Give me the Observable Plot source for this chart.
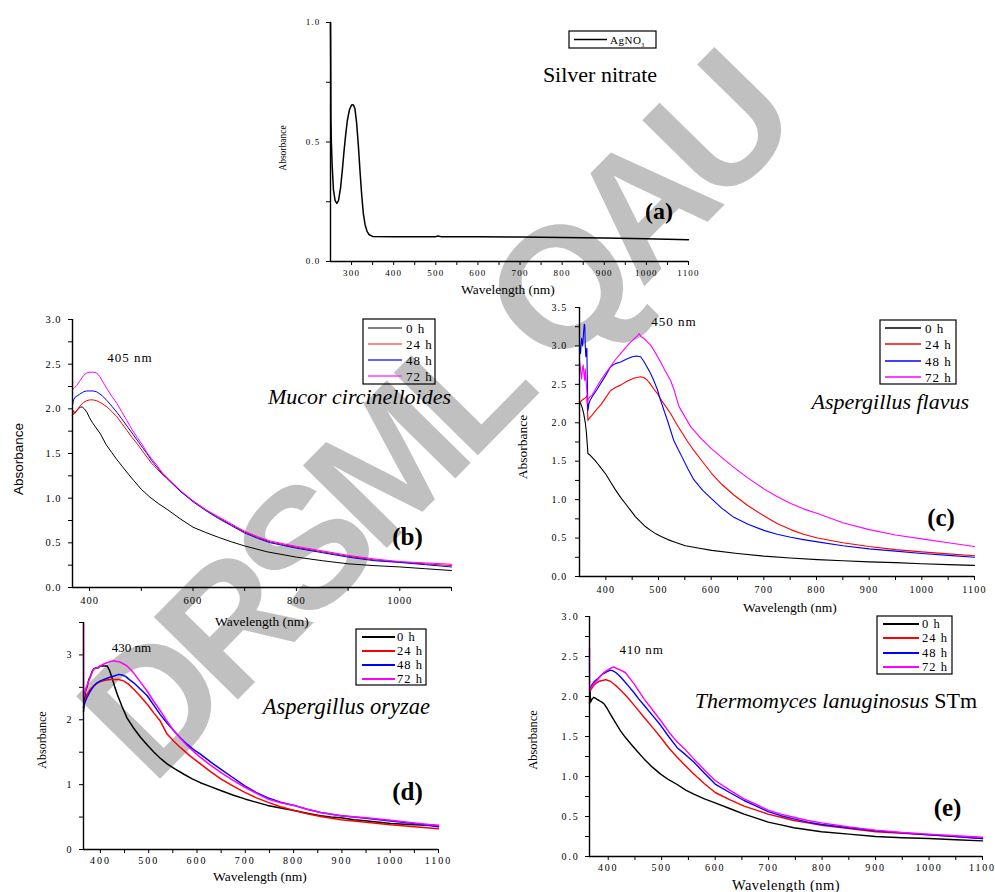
<!DOCTYPE html>
<html><head><meta charset="utf-8">
<script src="https://cdn.jsdelivr.net/npm/d3@7"></script>
<script src="https://cdn.jsdelivr.net/npm/@observablehq/plot@0.6"></script>
<style>
html,body{margin:0;padding:0;background:#fff;}
#fig{position:relative;width:995px;height:892px;overflow:hidden;background:#fff;}
</style></head><body><div id="fig"></div>
<script>
// ---------------- DATA ----------------
const seriesNames = ["0 h", "24 h", "48 h", "72 h"];
const seriesColors = ["#000000", "#ff0000", "#0000ff", "#ff00ff"];

// (a) Silver nitrate
const a_AgNO3 = [[250,1.0],[250.5,0.85],[251,0.6],[252,0.5],[254,0.4],[257,0.3],[261,0.255],[265,0.243],[269,0.255],[274,0.31],[278,0.38],[282,0.46],[286,0.53],[290,0.59],[295,0.635],[300,0.655],[304,0.656],[308,0.64],[312,0.58],[316,0.49],[320,0.38],[324,0.28],[328,0.2],[332,0.155],[337,0.125],[342,0.112],[350,0.105],[400,0.104],[500,0.104],[505,0.107],[512,0.104],[600,0.104],[700,0.102],[800,0.1],[900,0.098],[1000,0.095],[1100,0.091]];

// (b) Mucor circinelloides
const b_0h = [[367,1.93],[372,1.96],[377,1.99],[382,2.02],[386,2.02],[390,2.0],[395,1.96],[400,1.9],[405,1.85],[411,1.8],[421,1.72],[432,1.6],[443,1.51],[453,1.43],[464,1.35],[475,1.27],[485,1.2],[500,1.1],[517,1.01],[533,0.94],[550,0.875],[575,0.77],[600,0.675],[625,0.615],[650,0.56],[675,0.51],[700,0.465],[743,0.40],[800,0.34],[850,0.3],[900,0.265],[950,0.245],[1000,0.23],[1050,0.21],[1100,0.19]];
const b_24h = [[367,1.93],[369,1.98],[372,1.95],[375,1.98],[381,2.03],[388,2.07],[394,2.09],[400,2.10],[407,2.10],[414,2.09],[424,2.06],[434,2.02],[443,1.97],[453,1.91],[462,1.84],[472,1.76],[482,1.68],[492,1.61],[502,1.53],[511,1.46],[520,1.39],[530,1.33],[540,1.27],[550,1.22],[575,1.08],[600,0.97],[625,0.87],[650,0.78],[675,0.70],[700,0.62],[725,0.56],[750,0.51],[775,0.48],[800,0.45],[850,0.40],[900,0.35],[950,0.31],[1000,0.285],[1050,0.265],[1100,0.245]];
const b_48h = [[367,2.04],[369,2.1],[372,2.13],[380,2.16],[388,2.19],[394,2.2],[400,2.2],[407,2.2],[414,2.19],[424,2.15],[434,2.09],[443,2.03],[453,1.96],[462,1.89],[472,1.81],[482,1.73],[492,1.65],[502,1.57],[511,1.5],[520,1.42],[530,1.35],[540,1.28],[550,1.22],[575,1.08],[600,0.96],[625,0.86],[650,0.77],[675,0.69],[700,0.61],[725,0.55],[750,0.50],[775,0.47],[800,0.44],[850,0.39],[900,0.34],[950,0.30],[1000,0.28],[1050,0.255],[1100,0.23]];
const b_72h = [[367,3.0],[367.2,2.22],[370,2.23],[375,2.26],[381,2.31],[388,2.37],[394,2.4],[400,2.41],[407,2.41],[414,2.40],[420,2.36],[424,2.32],[429,2.27],[434,2.22],[443,2.14],[453,2.06],[462,1.97],[472,1.87],[482,1.77],[492,1.68],[502,1.6],[511,1.51],[520,1.44],[530,1.37],[540,1.29],[550,1.23],[575,1.09],[600,0.97],[625,0.87],[650,0.79],[675,0.71],[700,0.63],[725,0.57],[750,0.52],[775,0.49],[800,0.46],[850,0.41],[900,0.36],[950,0.32],[1000,0.29],[1050,0.275],[1100,0.26]];

// (c) Aspergillus flavus
const c_0h = [[350,2.29],[355,2.2],[358,2.12],[361,2.0],[363,1.88],[365,1.7],[366,1.6],[370,1.58],[374,1.55],[382,1.49],[390,1.42],[400,1.33],[409,1.23],[418,1.13],[428,1.03],[437,0.95],[447,0.86],[456,0.78],[466,0.71],[475,0.65],[485,0.6],[495,0.555],[505,0.52],[518,0.48],[530,0.45],[551,0.40],[575,0.37],[601,0.34],[650,0.3],[700,0.265],[750,0.24],[802,0.22],[850,0.205],[900,0.19],[950,0.18],[1000,0.165],[1050,0.155],[1100,0.145]];
const c_24h = [[350,2.25],[354,2.29],[358,2.31],[362,2.33],[364,2.35],[365,2.2],[366,2.03],[370,2.07],[374,2.1],[382,2.17],[390,2.23],[400,2.33],[409,2.42],[418,2.46],[428,2.49],[440,2.54],[453,2.58],[466,2.60],[472,2.59],[478,2.56],[485,2.5],[491,2.44],[498,2.38],[504,2.31],[513,2.22],[523,2.12],[532,2.01],[542,1.90],[554,1.77],[567,1.64],[584,1.49],[601,1.34],[620,1.2],[643,1.06],[670,0.92],[700,0.79],[725,0.69],[751,0.61],[775,0.55],[802,0.5],[850,0.44],[900,0.39],[950,0.35],[1000,0.32],[1050,0.295],[1100,0.27]];
const c_48h = [[350,3.03],[352,2.9],[354,3.1],[356,3.0],[358,3.2],[359,3.28],[360,3.27],[361,3.0],[362,2.86],[363,2.94],[364,2.97],[365,2.5],[366,2.16],[368,2.25],[370,2.29],[374,2.34],[382,2.42],[390,2.51],[400,2.62],[409,2.73],[418,2.77],[428,2.79],[440,2.83],[450,2.86],[458,2.87],[466,2.86],[472,2.8],[478,2.73],[485,2.64],[491,2.55],[498,2.43],[504,2.29],[511,2.15],[517,2.03],[523,1.9],[529,1.77],[537,1.66],[545,1.55],[556,1.4],[567,1.26],[584,1.12],[601,1.01],[620,0.89],[643,0.77],[670,0.68],[700,0.6],[725,0.55],[751,0.51],[775,0.48],[802,0.45],[850,0.40],[900,0.36],[950,0.33],[1000,0.30],[1050,0.275],[1100,0.25]];
const c_72h = [[350,2.81],[352,2.7],[354,2.57],[356,2.72],[357,2.75],[359,2.6],[360,2.55],[361,2.7],[362,2.6],[364,2.4],[365,2.25],[366,2.3],[370,2.34],[374,2.36],[382,2.46],[390,2.55],[400,2.65],[409,2.73],[418,2.82],[428,2.9],[438,2.98],[447,3.05],[455,3.1],[460,3.13],[463,3.16],[467,3.12],[472,3.10],[478,3.06],[485,3.01],[495,2.9],[504,2.79],[513,2.67],[523,2.55],[530,2.42],[535,2.3],[539,2.21],[550,2.08],[561,1.95],[580,1.8],[601,1.66],[620,1.55],[643,1.42],[670,1.28],[700,1.14],[725,1.04],[751,0.95],[775,0.88],[802,0.82],[850,0.7],[900,0.61],[950,0.54],[1000,0.49],[1050,0.44],[1100,0.39]];

// (d) Aspergillus oryzae
const d_0h = [[365,2.13],[367,2.3],[369,2.44],[372,2.5],[376,2.62],[380,2.68],[383,2.75],[386,2.78],[390,2.8],[395,2.8],[400,2.83],[407,2.83],[414,2.83],[419,2.76],[424,2.65],[430,2.5],[435,2.39],[445,2.2],[455,2.03],[469,1.87],[483,1.73],[497,1.61],[511,1.5],[525,1.4],[538,1.32],[555,1.24],[573,1.16],[590,1.09],[607,1.03],[628,0.97],[649,0.91],[674,0.84],[699,0.78],[722,0.73],[746,0.68],[773,0.64],[801,0.60],[828,0.56],[856,0.52],[877,0.5],[898,0.49],[925,0.46],[953,0.44],[1001,0.40],[1050,0.38],[1100,0.37]];
const d_24h = [[365,2.19],[368,2.3],[372,2.39],[379,2.47],[386,2.52],[393,2.56],[400,2.59],[410,2.61],[421,2.62],[430,2.62],[438,2.62],[448,2.6],[458,2.55],[469,2.47],[483,2.36],[497,2.24],[510,2.11],[524,1.98],[531,1.88],[538,1.78],[552,1.67],[566,1.57],[586,1.44],[607,1.32],[628,1.2],[649,1.09],[674,0.98],[699,0.88],[722,0.8],[746,0.73],[773,0.66],[801,0.60],[828,0.55],[856,0.51],[898,0.46],[950,0.42],[1001,0.38],[1050,0.35],[1100,0.32]];
const d_48h = [[365,2.19],[368,2.27],[372,2.34],[379,2.44],[386,2.52],[393,2.57],[400,2.60],[410,2.63],[421,2.66],[430,2.68],[438,2.70],[445,2.69],[452,2.67],[460,2.62],[469,2.57],[483,2.47],[497,2.37],[510,2.23],[524,2.08],[538,1.95],[552,1.83],[566,1.72],[580,1.62],[593,1.54],[607,1.47],[628,1.35],[649,1.24],[674,1.11],[699,0.98],[722,0.88],[746,0.80],[773,0.73],[801,0.68],[828,0.62],[856,0.57],[898,0.52],[950,0.48],[1001,0.44],[1050,0.40],[1100,0.35]];
const d_72h = [[365,3.49],[365.1,2.34],[368,2.42],[372,2.52],[379,2.66],[386,2.78],[393,2.8],[400,2.83],[407,2.86],[414,2.88],[421,2.9],[428,2.91],[434,2.9],[441,2.89],[448,2.86],[455,2.83],[462,2.78],[469,2.72],[483,2.58],[497,2.44],[510,2.29],[524,2.14],[538,1.98],[552,1.83],[566,1.71],[580,1.60],[593,1.51],[607,1.42],[628,1.3],[649,1.19],[674,1.07],[699,0.96],[722,0.87],[746,0.78],[773,0.72],[801,0.68],[828,0.62],[856,0.57],[898,0.52],[950,0.49],[1001,0.45],[1050,0.41],[1100,0.37]];

// (e) Thermomyces lanuginosus STm
const e_0h = [[365,1.91],[366,2.08],[367,1.93],[370,1.97],[373,1.99],[376,1.98],[380,1.96],[383,1.95],[388,1.93],[392,1.91],[398,1.85],[404,1.78],[413,1.68],[423,1.57],[432,1.49],[442,1.41],[455,1.31],[467,1.22],[482,1.12],[498,1.03],[513,0.96],[529,0.9],[545,0.83],[560,0.78],[580,0.72],[600,0.67],[627,0.6],[654,0.53],[677,0.48],[699,0.43],[723,0.395],[747,0.36],[773,0.335],[799,0.31],[850,0.28],[900,0.25],[950,0.235],[1000,0.225],[1050,0.21],[1100,0.195]];
const e_24h = [[365,2.05],[369,2.1],[373,2.14],[378,2.17],[383,2.19],[389,2.2],[395,2.21],[400,2.2],[404,2.19],[410,2.16],[417,2.12],[426,2.06],[436,1.99],[451,1.87],[467,1.74],[482,1.62],[498,1.49],[513,1.36],[529,1.24],[545,1.13],[560,1.03],[580,0.91],[600,0.8],[627,0.71],[654,0.63],[677,0.58],[699,0.53],[723,0.49],[747,0.45],[773,0.42],[799,0.39],[850,0.35],[900,0.31],[950,0.29],[1000,0.27],[1050,0.25],[1100,0.225]];
const e_48h = [[365,2.09],[369,2.14],[373,2.18],[380,2.22],[386,2.26],[392,2.29],[398,2.31],[404,2.33],[409,2.32],[414,2.3],[421,2.26],[429,2.2],[438,2.13],[448,2.05],[457,1.97],[467,1.89],[482,1.77],[498,1.64],[513,1.5],[529,1.36],[545,1.27],[560,1.18],[580,1.04],[600,0.905],[627,0.8],[654,0.7],[677,0.63],[699,0.56],[723,0.51],[747,0.47],[773,0.43],[799,0.40],[850,0.36],[900,0.32],[950,0.295],[1000,0.27],[1050,0.25],[1100,0.225]];
const e_72h = [[365,2.6],[365.2,2.07],[369,2.12],[373,2.16],[380,2.21],[386,2.26],[392,2.3],[398,2.33],[404,2.35],[410,2.37],[416,2.35],[423,2.33],[432,2.3],[440,2.23],[448,2.16],[457,2.07],[467,1.97],[482,1.84],[498,1.70],[513,1.56],[529,1.43],[545,1.33],[560,1.22],[580,1.08],[600,0.95],[627,0.83],[654,0.72],[677,0.65],[699,0.58],[723,0.53],[747,0.49],[773,0.45],[799,0.42],[850,0.37],[900,0.33],[950,0.30],[1000,0.28],[1050,0.26],[1100,0.24]];

// tick values
const aXTicks = d3.range(300, 1101, 50), aYTicks = d3.range(0, 1.001, 0.25);
const bXTicks = d3.range(400, 1101, 100), bYTicks = d3.range(0, 3.001, 0.25);
const cXTicks = d3.range(400, 1101, 50), cYTicks = d3.range(0, 3.501, 0.25);
const dXTicks = d3.range(400, 1101, 50), dYTicks = d3.range(0, 3.501, 0.5);
const eXTicks = d3.range(400, 1101, 50), eYTicks = d3.range(0, 3.001, 0.25);

// ---------------- DRAWING ----------------
const fig = document.getElementById("fig");
const SERIF = "'Liberation Serif','Times New Roman',serif";
const SANS = "'Liberation Sans',Arial,sans-serif";

// watermark (behind everything)
const wm = d3.select(fig).append("svg").attr("width", 995).attr("height", 892)
  .style("position", "absolute").style("left", "0px").style("top", "0px").style("z-index", 0);
wm.append("text").attr("x", 152).attr("y", 787)
  .attr("transform", "rotate(-45.5 152 787)")
  .attr("text-anchor", "start")
  .attr("font-family", SANS).attr("font-weight", "bold").attr("font-size", 171)
  .attr("letter-spacing", -12.5).attr("fill", "#c0c0c0")
  .text("DRSML QAU");

const isMult = (d, step) => Math.abs(d / step - Math.round(d / step)) < 1e-9;

function panel(cfg) {
  const p = Plot.plot({
    width: cfg.width, height: cfg.height,
    marginTop: cfg.m[0], marginRight: cfg.m[1], marginBottom: cfg.m[2], marginLeft: cfg.m[3],
    x: {domain: cfg.xDomain},
    y: {domain: cfg.yDomain},
    style: {background: "transparent", fontFamily: SERIF, fontSize: cfg.fs + "px",
            letterSpacing: cfg.ls + "px", overflow: "visible", color: "#000"},
    marks: [
      Plot.axisX({ticks: cfg.xTicks, tickFormat: d => isMult(d, cfg.xStep) ? String(d) : "",
                  tickSize: 4, tickPadding: cfg.padX, label: null, fontSize: cfg.fs}),
      Plot.axisY({ticks: cfg.yTicks, tickFormat: d => isMult(d, cfg.yStep) ? cfg.yFmt(d) : "",
                  tickSize: 4, tickPadding: cfg.padY, label: null, fontSize: cfg.fs}),
      ...cfg.series.map((s, i) => Plot.line(s, {x: d => d[0], y: d => d[1],
                  stroke: cfg.colors[i], strokeWidth: cfg.lw})),
      Plot.ruleX([cfg.xDomain[0]], {strokeWidth: 1.4}),
      Plot.ruleY([cfg.yDomain[0]], {strokeWidth: 1.4})
    ]
  });
  p.style.position = "absolute";
  p.style.left = cfg.left + "px";
  p.style.top = cfg.top + "px";
  p.style.zIndex = 1;
  fig.appendChild(p);
}

const f1 = d3.format(".1f");
panel({left: 270, top: 0, width: 440, height: 300, m: [22, 22, 39, 60],
  xDomain: [250, 1100], yDomain: [0, 1], xTicks: aXTicks, xStep: 100, yTicks: aYTicks, yStep: 0.5,
  yFmt: f1, series: [a_AgNO3], colors: ["#000"], lw: 1.5, fs: 9, ls: 1.2, padX: 4, padY: 6});
panel({left: 0, top: 300, width: 470, height: 330, m: [19, 19, 43, 72],
  xDomain: [367, 1100], yDomain: [0, 3], xTicks: bXTicks, xStep: 200, yTicks: bYTicks, yStep: 0.5,
  yFmt: f1, series: [b_0h, b_24h, b_48h, b_72h], colors: seriesColors, lw: 1, fs: 10.5, ls: 1, padX: 5, padY: 7});
panel({left: 500, top: 295, width: 495, height: 325, m: [12, 21, 44, 79],
  xDomain: [350, 1100], yDomain: [0, 3.5], xTicks: cXTicks, xStep: 100, yTicks: cYTicks, yStep: 0.5,
  yFmt: f1, series: [c_0h, c_24h, c_48h, c_72h], colors: seriesColors, lw: 1.1, fs: 10, ls: 1.2, padX: 5, padY: 8});
panel({left: 0, top: 610, width: 460, height: 282, m: [12, 22, 43, 83],
  xDomain: [365, 1100], yDomain: [0, 3.5], xTicks: dXTicks, xStep: 100, yTicks: dYTicks, yStep: 1,
  yFmt: d => String(d), series: [d_0h, d_24h, d_48h, d_72h], colors: seriesColors, lw: 1.5, fs: 10, ls: 2, padX: 3, padY: 6});
panel({left: 510, top: 606, width: 485, height: 286, m: [10, 13, 36, 79],
  xDomain: [365, 1100], yDomain: [0, 3], xTicks: eXTicks, xStep: 100, yTicks: eYTicks, yStep: 0.5,
  yFmt: f1, series: [e_0h, e_24h, e_48h, e_72h], colors: seriesColors, lw: 1.4, fs: 10, ls: 1.8, padX: 3, padY: 6});

// ---------------- OVERLAY TEXT & LEGENDS ----------------
const ov = d3.select(fig).append("svg").attr("width", 995).attr("height", 892)
  .style("position", "absolute").style("left", "0px").style("top", "0px").style("z-index", 2);

function txt(x, y, s, o = {}) {
  const t = ov.append("text").attr("x", x).attr("y", y)
    .attr("text-anchor", o.anchor || "middle")
    .attr("font-family", o.family || SERIF).attr("font-size", o.size || 13)
    .attr("fill", "#000");
  if (o.italic) t.attr("font-style", "italic");
  if (o.bold) t.attr("font-weight", "bold");
  if (o.ls) t.attr("letter-spacing", o.ls);
  if (o.rotate) t.attr("transform", `rotate(${o.rotate} ${x} ${y})`).attr("dominant-baseline", "central");
  t.text(s);
  return t;
}

function legend(box, rows, lx0, lx1, tx, size, lw, names, colors) {
  ov.append("rect").attr("x", box[0]).attr("y", box[1]).attr("width", box[2] - box[0]).attr("height", box[3] - box[1])
    .attr("fill", "none").attr("stroke", "#000").attr("stroke-width", 1.2);
  rows.forEach((ry, i) => {
    ov.append("line").attr("x1", lx0).attr("x2", lx1).attr("y1", ry).attr("y2", ry)
      .attr("stroke", colors[i]).attr("stroke-width", lw);
    ov.append("text").attr("x", tx).attr("y", ry).attr("dominant-baseline", "central")
      .attr("font-family", SERIF).attr("font-size", size).attr("letter-spacing", 1).text(names[i]);
  });
}

// (a)
{
  ov.append("rect").attr("x", 569).attr("y", 31).attr("width", 87).attr("height", 17)
    .attr("fill", "none").attr("stroke", "#000").attr("stroke-width", 1.2);
  ov.append("line").attr("x1", 574).attr("x2", 607).attr("y1", 39.5).attr("y2", 39.5).attr("stroke", "#000").attr("stroke-width", 1.5);
  const t = ov.append("text").attr("x", 610).attr("y", 43.5).attr("font-family", SERIF).attr("font-size", 11).attr("letter-spacing", 0.5);
  t.append("tspan").text("AgNO");
  t.append("tspan").attr("font-size", 6).attr("dy", 3).text("3");
}
txt(600, 82, "Silver nitrate", {size: 22});
txt(659, 219, "(a)", {size: 24, bold: true});
txt(283, 148, "Absorbance", {size: 9.5, rotate: -90});
txt(508, 294, "Wavelength (nm)", {size: 13.5});

// (b)
legend([363, 319, 435, 384], [328, 344, 360, 376], 368, 402, 406, 13, 1.6, seriesNames, ["#555", "#ff6060", "#3030ff", "#ff40ff"]);
txt(130, 361.5, "405 nm", {size: 13, ls: 1});
txt(451, 404, "Mucor circinelloides", {size: 22, italic: true, anchor: "end"});
txt(407.5, 545, "(b)", {size: 25, bold: true});
txt(18, 459, "Absorbance", {size: 13.5, family: SANS, rotate: -90});
txt(262, 626, "Wavelength (nm)", {size: 13.5});

// (c)
legend([880, 320, 956, 384], [328, 344, 361, 377], 885, 921, 925, 13, 1.3, seriesNames, seriesColors);
txt(674, 326, "450 nm", {size: 13, ls: 1});
txt(969, 409, "Aspergillus flavus", {size: 22, italic: true, anchor: "end"});
txt(941, 526, "(c)", {size: 25, bold: true});
txt(522, 447, "Absorbance", {size: 13.5, rotate: -90});
txt(790, 612, "Wavelength (nm)", {size: 13.5});

// (d)
legend([356, 629, 426, 685], [637, 651, 665, 679], 362, 395, 397, 12.5, 2, seriesNames, seriesColors);
txt(131.5, 652, "430 nm", {size: 13});
txt(430, 714, "Aspergillus oryzae", {size: 22.5, italic: true, anchor: "end"});
txt(407.5, 800, "(d)", {size: 25, bold: true});
txt(42, 740, "Absorbance", {size: 12, rotate: -90});
txt(260, 881, "Wavelength (nm)", {size: 13.5});

// (e)
legend([877, 616, 952, 674], [624, 638, 653, 667], 883, 919, 922, 12.5, 2, seriesNames, seriesColors);
txt(641.5, 654, "410 nm", {size: 13, ls: 0.8});
{
  const t = ov.append("text").attr("x", 977).attr("y", 708).attr("text-anchor", "end")
    .attr("font-family", SERIF).attr("font-size", 22);
  t.append("tspan").attr("font-style", "italic").text("Thermomyces lanuginosus ");
  t.append("tspan").text("STm");
}
txt(947.5, 816, "(e)", {size: 25, bold: true});
txt(533, 740, "Absorbance", {size: 12.5, rotate: -90});
txt(786, 890, "Wavelength (nm)", {size: 14.5, ls: 0.5});
</script></body></html>
